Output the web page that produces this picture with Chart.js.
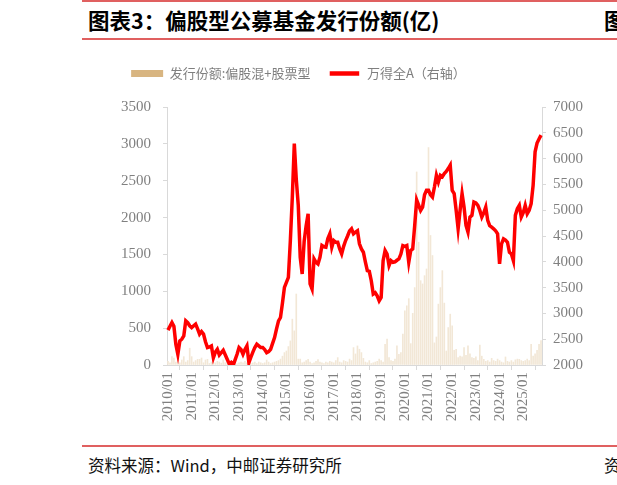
<!DOCTYPE html>
<html lang="zh-CN">
<head>
<meta charset="utf-8">
<script src="https://cdn.jsdelivr.net/npm/chart.js@4.4.1/dist/chart.umd.min.js"></script>
<style>
  body { margin: 0; width: 617px; height: 485px; overflow: hidden; background: #fff; position: relative; font-family: "Noto Sans CJK SC", sans-serif; }
  .rule { position: absolute; left: 82px; width: 535px; height: 2px; background: #e06060; }
  .title { position: absolute; top: 6px; left: 88px; font-size: 21.5px; line-height: 27px; font-weight: 700; color: #000; white-space: nowrap; }
  .source { position: absolute; top: 454px; left: 88px; font-size: 16.5px; line-height: 22px; color: #111; white-space: nowrap; }
  #chart { position: absolute; left: 0; top: 44px; }
</style>
</head>
<body>
<div class="rule" style="top:0;"></div>
<div class="title">图表3：偏股型公募基金发行份额(亿)</div>
<div class="title" style="left:604px;">图</div>
<div class="rule" style="top:38px;"></div>
<div class="rule" style="top:445px;"></div>
<div class="source">资料来源：Wind，中邮证券研究所</div>
<div class="source" style="left:604px;">资</div>
<canvas id="chart" width="617" height="396"></canvas>
<script>
    // 月度类目：2010/01 - 2025/10
    var months = [];
    for (var yr = 2010; yr <= 2025; yr++) {
        for (var m = 1; m <= 12; m++) {
            if (yr === 2025 && m > 10) break;
            months.push(yr + '/' + (m < 10 ? '0' + m : m));
        }
    }

    // 横轴只显示每年 1 月
    var yearTicks = ['2010/01', '2011/01', '2012/01', '2013/01', '2014/01', '2015/01', '2016/01', '2017/01',
        '2018/01', '2019/01', '2020/01', '2021/01', '2022/01', '2023/01', '2024/01', '2025/01'];

    var barName = '发行份额:偏股混+股票型';
    var lineName = '万得全A（右轴）';

    // 发行份额（亿），左轴
    var issueShares = [
        50, 30, 113, 95, 40, 113, 30, 68, 113, 40, 60, 228,          // 2010
        113, 40, 60, 77, 77, 95, 30, 68, 77, 20, 40, 45,             // 2011
        30, 50, 40, 25, 68, 30, 60, 20, 45, 30, 20, 15,              // 2012
        30, 40, 30, 50, 30, 25, 20, 30, 40, 20, 40, 30,              // 2013
        20, 30, 68, 40, 20, 30, 40, 50, 60, 80, 120, 168,            // 2014
        190, 250, 327, 622, 463, 963, 80, 80, 30, 40, 60, 77,        // 2015
        40, 20, 30, 50, 75, 40, 30, 20, 40, 30, 50, 40,              // 2016
        30, 60, 100, 40, 30, 60, 50, 40, 80, 60, 236, 150,           // 2017
        259, 214, 168, 90, 40, 30, 60, 20, 30, 40, 50, 80,           // 2018
        60, 40, 282, 350, 100, 60, 50, 80, 259, 145, 168, 418,       // 2019
        735, 803, 900, 290, 700, 1050, 2619, 1666, 1144, 1100, 1212, 1303, // 2020
        2950, 1757, 1485, 300, 380, 826, 1050, 1280, 840, 190, 508, 690,   // 2021
        531, 200, 214, 100, 120, 110, 236, 130, 259, 150, 100, 90,   // 2022
        110, 60, 270, 120, 77, 50, 60, 40, 90, 60, 50, 80,           // 2023
        60, 40, 30, 109, 50, 40, 60, 40, 70, 80, 77, 60,             // 2024
        50, 60, 80, 60, 282, 120, 150, 200, 282, 330                 // 2025
    ];

    // 万得全A，右轴
    var windAllA = [
        2675, 2750, 2823, 2750, 2400, 2208, 2467, 2500, 2564, 2856, 2820, 2760, // 2010
        2726, 2760, 2792, 2700, 2597, 2648, 2600, 2450, 2337, 2350, 2370, 2142, // 2011
        2250, 2305, 2195, 2240, 2286, 2200, 2111, 2025, 2050, 1990, 2100, 2208, // 2012
        2337, 2300, 2208, 2300, 2370, 2045, 2150, 2250, 2337, 2403, 2370, 2337, // 2013
        2337, 2300, 2239, 2260, 2305, 2420, 2531, 2700, 2856, 2920, 3200, 3504, // 2014
        3600, 3699, 4412, 5255, 6293, 5600, 5100, 4087, 3765, 4400, 4700, 4932, // 2015
        3570, 3472, 4056, 3990, 3959, 4087, 4315, 4290, 4282, 4450, 4543, 4282, // 2016
        4412, 4379, 4380, 4250, 4153, 4300, 4412, 4500, 4600, 4640, 4543, 4574, // 2017
        4600, 4348, 4250, 4185, 4000, 3829, 3815, 3634, 3375, 3400, 3342, 3245, // 2018
        3310, 4023, 4218, 4150, 3926, 4023, 3990, 4000, 4030, 4056, 4150, 4315, // 2019
        4300, 4315, 3990, 4218, 4250, 4700, 5200, 5100, 4996, 5061, 5300, 5385, // 2020
        5385, 5300, 5255, 5450, 5677, 5547, 5677, 5650, 5710, 5750, 5807, 5872, // 2021
        5385, 5321, 5000, 4640, 5000, 5321, 5061, 4704, 4574, 4866, 4900, 5158, // 2022
        5140, 5094, 4996, 4866, 4950, 5061, 4802, 4700, 4671, 4640, 4600, 4543, // 2023
        3959, 4348, 4445, 4420, 4379, 4185, 4153, 4023, 4899, 5029, 5094, 4866, // 2024
        4950, 5094, 4932, 5000, 5126, 5482, 6131, 6300, 6380, 6455              // 2025
    ];

    var axisGray = '#d9d9d9';
    var tickFont = { family: '"Liberation Serif", "Times New Roman", serif', size: 15 };
    var tickColor = '#808080';

    // 图例与绘图区之间留出空隙
    var legendGap = {
        id: 'legendGap',
        beforeInit: function (chart) {
            var fit = chart.legend.fit;
            chart.legend.fit = function () {
                fit.call(this);
                this.height += 17;
            };
        }
    };

    var config = {
        type: 'bar',
        data: {
            labels: months,
            datasets: [{
                type: 'line',
                label: lineName,
                data: windAllA,
                yAxisID: 'y1',
                borderColor: '#ff0000',
                backgroundColor: '#ff0000',
                borderWidth: 3.5,
                pointRadius: 0,
                tension: 0
            }, {
                type: 'bar',
                label: barName,
                data: issueShares,
                yAxisID: 'y',
                backgroundColor: 'rgb(242,231,214)',
                barThickness: 1
            }]
        },
        options: {
            responsive: false,
            animation: false,
            devicePixelRatio: 1,
            layout: { padding: { top: 5, right: 20, left: 0, bottom: 0 } },
            plugins: {
                tooltip: { enabled: false },
                legend: {
                    position: 'top',
                    labels: {
                        boxWidth: 32,
                        boxHeight: 7,
                        padding: 18,
                        color: '#7f7f7f',
                        font: { family: '"Noto Sans CJK SC", sans-serif', size: 13 },
                        generateLabels: function () {
                            return [
                                { text: barName, fillStyle: '#d8b581', strokeStyle: '#d8b581', lineWidth: 0, datasetIndex: 1, fontColor: '#7f7f7f' },
                                { text: lineName, fillStyle: '#ff0000', strokeStyle: '#ffffff', lineWidth: 2.5, datasetIndex: 0, fontColor: '#7f7f7f' }
                            ];
                        }
                    }
                }
            },
            scales: {
                x: {
                    afterFit: function (scale) { scale.height = 75; },
                    border: { color: axisGray },
                    grid: { drawOnChartArea: false, color: axisGray, tickLength: 5 },
                    ticks: {
                        autoSkip: false,
                        minRotation: 90,
                        maxRotation: 90,
                        padding: 2,
                        color: tickColor,
                        font: tickFont,
                        callback: function (value) {
                            var label = this.getLabelForValue(value);
                            return yearTicks.indexOf(label) >= 0 ? label : null;
                        }
                    }
                },
                y: {
                    position: 'left',
                    min: 0,
                    max: 3500,
                    afterFit: function (scale) { scale.width = 167; },
                    border: { color: axisGray },
                    grid: { drawOnChartArea: false, color: axisGray, tickLength: 4 },
                    ticks: { stepSize: 500, padding: 12, color: tickColor, font: tickFont, callback: function (v) { return String(v); } }
                },
                y1: {
                    position: 'right',
                    min: 2000,
                    max: 7000,
                    afterFit: function (scale) { scale.width = 55; },
                    border: { color: axisGray },
                    grid: { drawOnChartArea: false, color: axisGray, tickLength: 4 },
                    ticks: { stepSize: 500, padding: 7, color: tickColor, font: tickFont, callback: function (v) { return String(v); } }
                }
            }
        },
        plugins: [legendGap]
    };

    var myChart = new Chart(document.getElementById('chart'), config);
</script>
</body>
</html>
